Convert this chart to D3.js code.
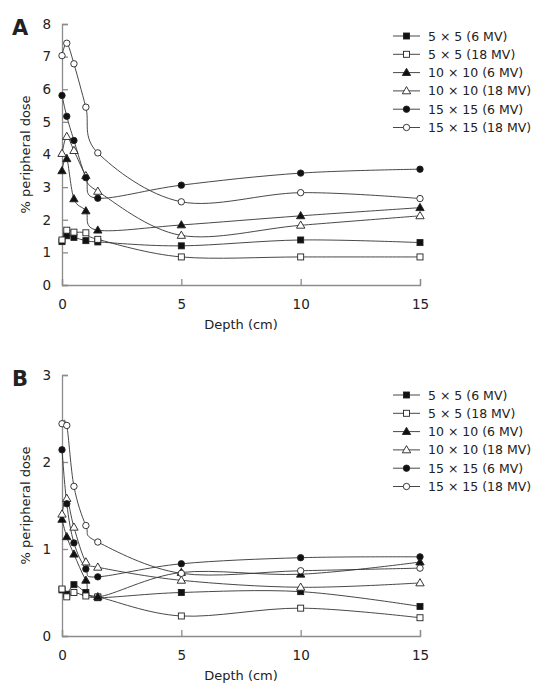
<!DOCTYPE html>
<html>
<head>
<meta charset="utf-8">
<script src="https://cdn.jsdelivr.net/npm/d3@7/dist/d3.min.js"></script>
<style>
  html, body { margin: 0; padding: 0; background: #fff; }
  svg { display: block; }
  text { font-family: "DejaVu Sans", Verdana, sans-serif; fill: #222; }
</style>
</head>
<body>
<script>
// ---------- data ----------
const depths = [0, 0.2, 0.5, 1, 1.5, 5, 10, 15];
const seriesNames = ["5 × 5 (6 MV)", "5 × 5 (18 MV)", "10 × 10 (6 MV)", "10 × 10 (18 MV)", "15 × 15 (6 MV)", "15 × 15 (18 MV)"];
const xTicks = [0, 5, 10, 15];
const yTicksA = [0, 1, 2, 3, 4, 5, 6, 7, 8];
const yTicksB = [0, 1, 2, 3];

// Panel A
const a_5x5_6   = [1.33, 1.51, 1.46, 1.36, 1.32, 1.20, 1.38, 1.30];
const a_5x5_18  = [1.38, 1.68, 1.62, 1.60, 1.40, 0.86, 0.86, 0.86];
const a_10x10_6 = [3.50, 3.87, 2.64, 2.27, 1.68, 1.84, 2.12, 2.37];
const a_10x10_18= [4.03, 4.55, 4.12, 3.35, 2.87, 1.52, 1.83, 2.12];
const a_15x15_6 = [5.81, 5.17, 4.43, 3.29, 2.66, 3.06, 3.43, 3.55];
const a_15x15_18= [7.03, 7.41, 6.78, 5.45, 4.05, 2.55, 2.83, 2.65];

// Panel B
const b_5x5_6   = [0.53, 0.48, 0.59, 0.50, 0.44, 0.50, 0.51, 0.34];
const b_5x5_18  = [0.54, 0.45, 0.50, 0.46, 0.45, 0.23, 0.32, 0.21];
const b_10x10_6 = [1.34, 1.14, 0.94, 0.64, 0.45, 0.73, 0.71, 0.85];
const b_10x10_18= [1.40, 1.58, 1.25, 0.85, 0.79, 0.64, 0.56, 0.61];
const b_15x15_6 = [2.14, 1.52, 1.07, 0.77, 0.68, 0.83, 0.90, 0.91];
const b_15x15_18= [2.44, 2.42, 1.72, 1.27, 1.08, 0.72, 0.75, 0.78];

// ---------- styles ----------
const markers = [
  {shape: "square", fill: "#111"},
  {shape: "square", fill: "#fff"},
  {shape: "triangle", fill: "#111"},
  {shape: "triangle", fill: "#fff"},
  {shape: "circle", fill: "#111"},
  {shape: "circle", fill: "#fff"}
];
const lineColor = "#333";
const axisColor = "#8c8c8c";

const W = 541, H = 700;
const svg = d3.select("body").append("svg").attr("width", W).attr("height", H);

const panels = [
  {label: "A", ymax: 8, yTicks: yTicksA, yRange: [285, 24], labelY: 35, legendY: 36,
   series: [a_5x5_6, a_5x5_18, a_10x10_6, a_10x10_18, a_15x15_6, a_15x15_18]},
  {label: "B", ymax: 3, yTicks: yTicksB, yRange: [636, 375], labelY: 386, legendY: 395,
   series: [b_5x5_6, b_5x5_18, b_10x10_6, b_10x10_18, b_15x15_6, b_15x15_18]}
];

const x = d3.scaleLinear().domain([0, 15]).range([62, 420]);

function drawMarker(g, m, cx, cy) {
  if (m.shape === "square") {
    g.append("rect").attr("x", cx - 3).attr("y", cy - 3).attr("width", 6).attr("height", 6)
      .attr("fill", m.fill).attr("stroke", "#222").attr("stroke-width", 0.9);
  } else if (m.shape === "triangle") {
    g.append("path").attr("d", d3.symbol().type(d3.symbolTriangle).size(30)())
      .attr("transform", `translate(${cx},${cy + 0.5})`)
      .attr("fill", m.fill).attr("stroke", "#222").attr("stroke-width", 0.9);
  } else {
    g.append("circle").attr("cx", cx).attr("cy", cy).attr("r", 3.2)
      .attr("fill", m.fill).attr("stroke", "#222").attr("stroke-width", 0.9);
  }
}

panels.forEach(p => {
  const y = d3.scaleLinear().domain([0, p.ymax]).range(p.yRange);
  const g = svg.append("g");

  // axes
  const yAxis = d3.axisLeft(y).tickValues(p.yTicks).tickSize(-6).tickPadding(11).tickFormat(d3.format("d"));
  const gy = g.append("g").attr("transform", `translate(${x(0)},0)`).call(yAxis);
  const xAxis = d3.axisBottom(x).tickValues(xTicks).tickSize(-6).tickPadding(14).tickFormat(d3.format("d"));
  const gx = g.append("g").attr("transform", `translate(0,${y(0)})`).call(xAxis);
  [gx, gy].forEach(a => {
    a.select(".domain").attr("stroke", axisColor).attr("stroke-width", 1.3);
    a.selectAll(".tick line").attr("stroke", axisColor).attr("stroke-width", 1.3);
    a.selectAll(".tick text").attr("font-size", 13.5).attr("font-family", "DejaVu Sans").attr("fill", "#222");
  });

  // panel label
  g.append("text").attr("x", 12).attr("y", p.labelY).attr("font-size", 21).attr("font-weight", "bold")
    .text(p.label);

  // axis titles
  const yMid = (p.yRange[0] + p.yRange[1]) / 2;
  g.append("text").attr("transform", `translate(30,${yMid}) rotate(-90)`)
    .attr("text-anchor", "middle").attr("font-size", 13).text("% peripheral dose");
  g.append("text").attr("x", (x(0) + x(15)) / 2).attr("y", y(0) + 44)
    .attr("text-anchor", "middle").attr("font-size", 13).text("Depth (cm)");

  // lines
  const line = d3.line().x((d, i) => x(depths[i])).y(d => y(d)).curve(d3.curveCardinal.tension(0));
  p.series.forEach((vals) => {
    g.append("path").datum(vals).attr("d", line).attr("fill", "none")
      .attr("stroke", lineColor).attr("stroke-width", 0.9);
  });
  p.series.forEach((vals, si) => {
    vals.forEach((v, i) => drawMarker(g, markers[si], x(depths[i]), y(v)));
  });

  // legend
  const lg = g.append("g");
  seriesNames.forEach((name, si) => {
    const ly = p.legendY + si * 18.3;
    lg.append("line").attr("x1", 393).attr("x2", 420).attr("y1", ly).attr("y2", ly)
      .attr("stroke", lineColor).attr("stroke-width", 0.9);
    drawMarker(lg, markers[si], 406.5, ly);
    lg.append("text").attr("x", 428).attr("y", ly + 4.5).attr("font-size", 12.5).text(name);
  });
});
</script>
</body>
</html>
